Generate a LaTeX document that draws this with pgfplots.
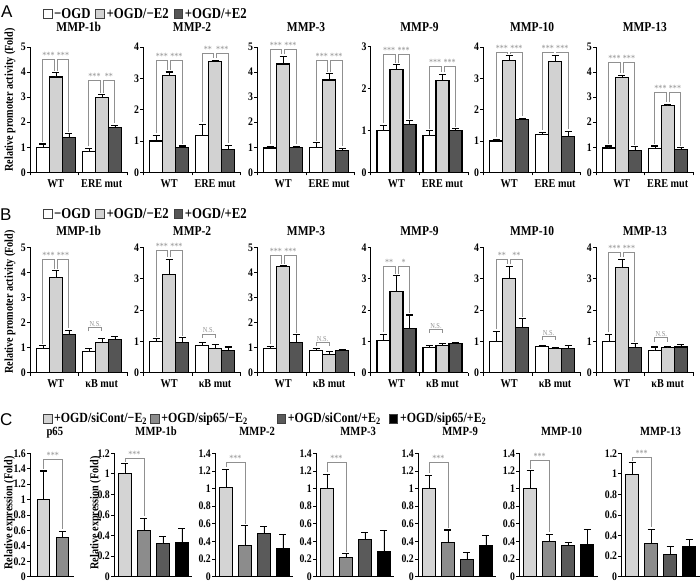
\documentclass[border=0pt]{standalone}
\usepackage{pgfplots}
\pgfplotsset{compat=1.18}
\usepackage{fontspec}
\setmainfont{Liberation Serif}[FakeStretch=0.85]
\newfontfamily\sansA{Liberation Sans}
\definecolor{lg}{HTML}{D2D2D2}
\definecolor{dg}{HTML}{555555}
\definecolor{cl}{HTML}{D4D4D4}
\definecolor{cm}{HTML}{8C8C8C}
\definecolor{cd}{HTML}{5A5A5A}
\definecolor{bkg}{HTML}{909090}
\newcommand\fTk{\bfseries\fontsize{11.5}{11.5}\selectfont}
\newcommand\fT{\bfseries\fontsize{13.5}{13.5}\selectfont}
\newcommand\fTc{\bfseries\fontsize{12.5}{12.5}\selectfont}
\newcommand\fG{\bfseries\fontsize{12}{12}\selectfont}
\newcommand\fL{\bfseries\fontsize{15}{15}\selectfont}
\newcommand\fLc{\bfseries\fontsize{14}{14}\selectfont}
\newcommand\fY{\bfseries\fontsize{12}{12}\selectfont}
\tikzset{brkline/.style={draw=bkg, line width=0.6pt},
  sig/.style={above, inner sep=0.5pt, text=bkg, font=\fontsize{9.5}{9.5}\selectfont}}
\newcommand\brk[7]{\draw[brkline] ([xshift=#2pt,yshift=2pt]axis cs:#1,#4) -- ([xshift=#2pt]axis cs:#1,#6) -- node[sig]{#7} ([xshift=#3pt]axis cs:#1,#6) -- ([xshift=#3pt,yshift=2pt]axis cs:#1,#5);}
\newcommand\ns[2]{\draw[brkline] ([xshift=-13pt,yshift=-4pt]axis cs:#1,#2) -- ([xshift=-13pt]axis cs:#1,#2) -- node[sig,font=\fontsize{7.5}{7.5}\selectfont]{N.S.} ([xshift=0pt]axis cs:#1,#2) -- ([yshift=-4pt]axis cs:#1,#2);}
\pgfplotsset{
  base/.style={scale only axis, anchor=south west, ymin=0,
    axis x line*=bottom, axis y line*=left,
    axis line style={line width=0.9pt},
    tick style={black, line width=0.8pt}, tick align=outside, major tick length=3pt,
    tick label style={font=\fTk}, /pgf/number format/assume math mode=true,
    yticklabel style={inner xsep=1pt}, clip=false,
    every axis plot/.append style={draw=black, line width=1.1pt},
    every axis plot post/.append style={legend image code/.code={\draw[####1, draw=black!75, line width=0.6pt] (0pt,-4.3pt) rectangle (8.6pt,4.3pt);}}},
  ab/.style={base, width=97.5pt, height=125.4pt, xmin=-0.56, xmax=1.56,
    xtick={-0.56,0.5,1.56}, xticklabels={,,},
    extra x ticks={0,1}, extra x tick labels={WT,#1},
    extra x tick style={major tick length=0pt, tick label style={font=\fG, anchor=base, yshift=-15pt}},
    ytick distance=1, ybar=0pt, bar width=13pt,
    title style={font=\fT, at={(0.5,1)}, anchor=base}},
  cc/.style={base, width=78.3pt, height=123.4pt, xmin=-0.57, xmax=3.55, xtick=\empty,
    ybar, bar width=12.5pt,
    title style={font=\fTc, at={(0.5,1)}, anchor=base, yshift=11.6pt, xshift=3pt}},
  eb/.style={error bars/.cd, y dir=plus, y explicit, error mark options={rotate=90, mark size=3.5pt, line width=1.1pt, black}},
  cb/.style={/pgf/bar shift=0pt, eb},
  legA/.style={legend style={anchor=west, draw=none, fill=none, font=\fL, inner sep=0pt, outer sep=0pt, nodes={inner xsep=2pt}, legend columns=3, /tikz/every even column/.append style={column sep=3pt}}}
}
\begin{document}
\begin{tikzpicture}
\path[use as bounding box] (0,0) rectangle (700pt,582pt);
% ================= Row A =================
\begin{axis}[ab={ERE mut}, at={(30pt,409.7pt)}, ymax=5, title={MMP-1b}, title style={yshift=9.5pt}, legA, legend style={at={(axis description cs:0.133,1.262)}}]
\addplot[fill=white, eb] coordinates {(0,1.0) +- (0,0.13) (1,0.82) +- (0,0.14)};
\addplot[fill=lg, eb] coordinates {(0,3.8) +- (0,0.17) (1,3.0) +- (0,0.1)};
\addplot[fill=dg, eb] coordinates {(0,1.4) +- (0,0.13) (1,1.8) +- (0,0.08)};
\legend{−OGD, +OGD/−E2, +OGD/+E2}
\brk{0}{-13}{-1.5}{1.13}{3.97}{4.5}{***}
\brk{0}{1.5}{13}{3.97}{1.53}{4.5}{***}
\brk{1}{-13}{-1.5}{0.96}{3.1}{3.67}{***}
\brk{1}{1.5}{13}{3.1}{1.88}{3.67}{**}
\end{axis}
\begin{axis}[ab={ERE mut}, at={(143.3pt,409.7pt)}, ymax=4, title={MMP-2}, title style={yshift=9.5pt}]
\addplot[fill=white, eb] coordinates {(0,1.0) +- (0,0.18) (1,1.17) +- (0,0.36)};
\addplot[fill=lg, eb] coordinates {(0,3.08) +- (0,0.12) (1,3.53) +- (0,0.05)};
\addplot[fill=dg, eb] coordinates {(0,0.8) +- (0,0.04) (1,0.74) +- (0,0.12)};
\brk{0}{-13}{-1.5}{1.18}{3.2}{3.58}{***}
\brk{0}{1.5}{13}{3.2}{0.84}{3.58}{***}
\brk{1}{-13}{-1.5}{1.53}{3.58}{3.81}{**}
\brk{1}{1.5}{13}{3.58}{0.86}{3.81}{***}
\end{axis}
\begin{axis}[ab={ERE mut}, at={(257.3pt,409.7pt)}, ymax=5, title={MMP-3}, title style={yshift=9.5pt}]
\addplot[fill=white, eb] coordinates {(0,0.97) +- (0,0.07) (1,1.0) +- (0,0.18)};
\addplot[fill=lg, eb] coordinates {(0,4.32) +- (0,0.3) (1,3.68) +- (0,0.25)};
\addplot[fill=dg, eb] coordinates {(0,1.0) +- (0,0.03) (1,0.88) +- (0,0.07)};
\brk{0}{-13}{-1.5}{1.04}{4.62}{4.9}{***}
\brk{0}{1.5}{13}{4.62}{1.03}{4.9}{***}
\brk{1}{-13}{-1.5}{1.18}{3.93}{4.47}{***}
\brk{1}{1.5}{13}{3.93}{0.95}{4.47}{***}
\end{axis}
\begin{axis}[ab={ERE mut}, at={(370.7pt,409.7pt)}, ymax=3, title={MMP-9}, title style={yshift=9.5pt}]
\addplot[fill=white, eb] coordinates {(0,1.0) +- (0,0.12) (1,0.89) +- (0,0.1)};
\addplot[fill=lg, eb] coordinates {(0,2.47) +- (0,0.1) (1,2.19) +- (0,0.15)};
\addplot[fill=dg, eb] coordinates {(0,1.15) +- (0,0.08) (1,1.0) +- (0,0.04)};
\brk{0}{-13}{-1.5}{1.12}{2.57}{2.82}{***}
\brk{0}{1.5}{13}{2.57}{1.23}{2.82}{***}
\brk{1}{-13}{-1.5}{0.99}{2.34}{2.54}{***}
\brk{1}{1.5}{13}{2.34}{1.04}{2.54}{***}
\end{axis}
\begin{axis}[ab={ERE mut}, at={(483.3pt,409.7pt)}, ymax=4, title={MMP-10}, title style={yshift=9.5pt}]
\addplot[fill=white, eb] coordinates {(0,1.0) +- (0,0.06) (1,1.2) +- (0,0.08)};
\addplot[fill=lg, eb] coordinates {(0,3.58) +- (0,0.14) (1,3.53) +- (0,0.2)};
\addplot[fill=dg, eb] coordinates {(0,1.68) +- (0,0.04) (1,1.15) +- (0,0.16)};
\brk{0}{-13}{-1.5}{1.06}{3.72}{3.84}{***}
\brk{0}{1.5}{13}{3.72}{1.72}{3.84}{***}
\brk{1}{-13}{-1.5}{1.28}{3.73}{3.84}{***}
\brk{1}{1.5}{13}{3.73}{1.31}{3.84}{***}
\end{axis}
\begin{axis}[ab={ERE mut}, at={(596pt,409.7pt)}, ymax=5, title={MMP-13}, title style={yshift=9.5pt}]
\addplot[fill=white, eb] coordinates {(0,0.97) +- (0,0.08) (1,0.95) +- (0,0.1)};
\addplot[fill=lg, eb] coordinates {(0,3.78) +- (0,0.08) (1,2.65) +- (0,0.06)};
\addplot[fill=dg, eb] coordinates {(0,0.87) +- (0,0.15) (1,0.9) +- (0,0.08)};
\brk{0}{-13}{-1.5}{1.05}{3.86}{4.4}{***}
\brk{0}{1.5}{13}{3.86}{1.02}{4.4}{***}
\brk{1}{-13}{-1.5}{1.05}{2.71}{3.17}{***}
\brk{1}{1.5}{13}{2.71}{0.98}{3.17}{***}
\end{axis}
% ================= Row B =================
\begin{axis}[ab={κB mut}, at={(30pt,209.3pt)}, ymax=5, title={MMP-1b}, title style={yshift=5.6pt}, legA, legend style={at={(axis description cs:0.133,1.2656)}}]
\addplot[fill=white, eb] coordinates {(0,0.97) +- (0,0.1) (1,0.84) +- (0,0.12)};
\addplot[fill=lg, eb] coordinates {(0,3.78) +- (0,0.28) (1,1.2) +- (0,0.17)};
\addplot[fill=dg, eb] coordinates {(0,1.53) +- (0,0.17) (1,1.31) +- (0,0.12)};
\legend{−OGD, +OGD/−E2, +OGD/+E2}
\brk{0}{-13}{-1.5}{1.07}{4.06}{4.52}{***}
\brk{0}{1.5}{13}{4.06}{1.7}{4.52}{***}
\ns{1}{1.81}
\end{axis}
\begin{axis}[ab={κB mut}, at={(143.3pt,209.3pt)}, ymax=4, title={MMP-2}, title style={yshift=5.6pt}]
\addplot[fill=white, eb] coordinates {(0,1.0) +- (0,0.09) (1,0.88) +- (0,0.09)};
\addplot[fill=lg, eb] coordinates {(0,3.12) +- (0,0.5) (1,0.77) +- (0,0.13)};
\addplot[fill=dg, eb] coordinates {(0,0.97) +- (0,0.14) (1,0.7) +- (0,0.12)};
\brk{0}{-13}{-1.5}{1.09}{3.62}{3.9}{***}
\brk{0}{1.5}{13}{3.62}{1.11}{3.9}{***}
\ns{1}{1.24}
\end{axis}
\begin{axis}[ab={κB mut}, at={(257.3pt,209.3pt)}, ymax=5, title={MMP-3}, title style={yshift=5.6pt}]
\addplot[fill=white, eb] coordinates {(0,0.97) +- (0,0.08) (1,0.9) +- (0,0.06)};
\addplot[fill=lg, eb] coordinates {(0,4.22) +- (0,0.05) (1,0.72) +- (0,0.14)};
\addplot[fill=dg, eb] coordinates {(0,1.2) +- (0,0.32) (1,0.87) +- (0,0.06)};
\brk{0}{-13}{-1.5}{1.05}{4.27}{4.69}{***}
\brk{0}{1.5}{13}{4.27}{1.52}{4.69}{***}
\ns{1}{1.21}
\end{axis}
\begin{axis}[ab={κB mut}, at={(370.7pt,209.3pt)}, ymax=4, title={MMP-9}, title style={yshift=5.6pt}]
\addplot[fill=white, eb] coordinates {(0,1.02) +- (0,0.2) (1,0.8) +- (0,0.07)};
\addplot[fill=lg, eb] coordinates {(0,2.6) +- (0,0.5) (1,0.87) +- (0,0.06)};
\addplot[fill=dg, eb] coordinates {(0,1.42) +- (0,0.42) (1,0.93) +- (0,0.04)};
\brk{0}{-13}{-1.5}{1.22}{3.1}{3.4}{**}
\brk{0}{1.5}{13}{3.1}{1.84}{3.4}{*}
\ns{1}{1.39}
\end{axis}
\begin{axis}[ab={κB mut}, at={(483.3pt,209.3pt)}, ymax=4, title={MMP-10}, title style={yshift=5.6pt}]
\addplot[fill=white, eb] coordinates {(0,1.0) +- (0,0.32) (1,0.83) +- (0,0.03)};
\addplot[fill=lg, eb] coordinates {(0,3.0) +- (0,0.4) (1,0.78) +- (0,0.03)};
\addplot[fill=dg, eb] coordinates {(0,1.45) +- (0,0.27) (1,0.77) +- (0,0.09)};
\brk{0}{-13}{-1.5}{1.32}{3.4}{3.61}{**}
\brk{0}{1.5}{13}{3.4}{1.72}{3.61}{**}
\ns{1}{1.16}
\end{axis}
\begin{axis}[ab={κB mut}, at={(596pt,209.3pt)}, ymax=4, title={MMP-13}, title style={yshift=5.6pt}]
\addplot[fill=white, eb] coordinates {(0,1.0) +- (0,0.22) (1,0.7) +- (0,0.12)};
\addplot[fill=lg, eb] coordinates {(0,3.35) +- (0,0.27) (1,0.8) +- (0,0.04)};
\addplot[fill=dg, eb] coordinates {(0,0.8) +- (0,0.12) (1,0.82) +- (0,0.07)};
\brk{0}{-13}{-1.5}{1.22}{3.62}{3.83}{***}
\brk{0}{1.5}{13}{3.62}{0.92}{3.83}{***}
\ns{1}{1.12}
\end{axis}
% ================= Row C =================
\begin{axis}[cc, at={(30pt,5.3pt)}, width=43.7pt, xmin=-0.7, xmax=1.6, ymax=1.6, ytick={0,0.2,0.4,0.6,0.8,1,1.2,1.4,1.6}, title={p65}]
\addplot[fill=cl, cb] coordinates {(0,1.0) +- (0,0.37)};
\addplot[fill=cm, cb] coordinates {(1,0.51) +- (0,0.08)};
\brk{0.5}{-9.5}{9.5}{1.37}{0.59}{1.52}{***}
\end{axis}
\begin{axis}[cc, at={(114pt,5.3pt)}, ymax=1.2, ytick={0,0.2,0.4,0.6,0.8,1,1.2}, title={MMP-1b},
  legend style={at={(axis description cs:-0.907,1.282)}, anchor=west, draw=none, fill=none, font=\fLc, inner sep=0pt, outer sep=0pt, nodes={inner xsep=2pt}, legend columns=4, /tikz/every even column/.append style={column sep=1pt}}]
\addplot[fill=cl, cb] coordinates {(0,1.0) +- (0,0.1)};
\addplot[fill=cm, cb] coordinates {(1,0.45) +- (0,0.12)};
\addplot[fill=cd, cb] coordinates {(2,0.32) +- (0,0.07)};
\addplot[fill=black, cb] coordinates {(3,0.33) +- (0,0.14)};
\legend{+OGD/siCont/−E\textsubscript{2}, +OGD/sip65/−E\textsubscript{2}\hspace*{26pt}, +OGD/siCont/+E\textsubscript{2}\hspace*{5pt}, +OGD/sip65/+E\textsubscript{2}}
\brk{0.5}{-9.5}{9.5}{1.1}{0.57}{1.15}{***}
\end{axis}
\begin{axis}[cc, at={(215pt,5.3pt)}, ymax=1.4, ytick={0,0.2,0.4,0.6,0.8,1,1.2,1.4}, title={MMP-2}]
\addplot[fill=cl, cb] coordinates {(0,1.01) +- (0,0.21)};
\addplot[fill=cm, cb] coordinates {(1,0.35) +- (0,0.23)};
\addplot[fill=cd, cb] coordinates {(2,0.49) +- (0,0.08)};
\addplot[fill=black, cb] coordinates {(3,0.32) +- (0,0.16)};
\brk{0.5}{-9.5}{9.5}{1.22}{0.58}{1.3}{***}
\end{axis}
\begin{axis}[cc, at={(316pt,5.3pt)}, ymax=1.4, ytick={0,0.2,0.4,0.6,0.8,1,1.2,1.4}, title={MMP-3}]
\addplot[fill=cl, cb] coordinates {(0,1.0) +- (0,0.16)};
\addplot[fill=cm, cb] coordinates {(1,0.22) +- (0,0.04)};
\addplot[fill=cd, cb] coordinates {(2,0.42) +- (0,0.08)};
\addplot[fill=black, cb] coordinates {(3,0.28) +- (0,0.24)};
\brk{0.5}{-9.5}{9.5}{1.16}{0.26}{1.3}{***}
\end{axis}
\begin{axis}[cc, at={(418pt,5.3pt)}, ymax=1.4, ytick={0,0.2,0.4,0.6,0.8,1,1.2,1.4}, title={MMP-9}]
\addplot[fill=cl, cb] coordinates {(0,1.0) +- (0,0.15)};
\addplot[fill=cm, cb] coordinates {(1,0.39) +- (0,0.14)};
\addplot[fill=cd, cb] coordinates {(2,0.2) +- (0,0.07)};
\addplot[fill=black, cb] coordinates {(3,0.35) +- (0,0.12)};
\brk{0.5}{-9.5}{9.5}{1.15}{0.53}{1.3}{***}
\end{axis}
\begin{axis}[cc, at={(519.3pt,5.3pt)}, ymax=1.4, ytick={0,0.2,0.4,0.6,0.8,1,1.2,1.4}, title={MMP-10}]
\addplot[fill=cl, cb] coordinates {(0,1.0) +- (0,0.2)};
\addplot[fill=cm, cb] coordinates {(1,0.4) +- (0,0.08)};
\addplot[fill=cd, cb] coordinates {(2,0.35) +- (0,0.04)};
\addplot[fill=black, cb] coordinates {(3,0.36) +- (0,0.18)};
\brk{0.5}{-9.5}{9.5}{1.2}{0.48}{1.32}{***}
\end{axis}
\begin{axis}[cc, at={(621.3pt,5.3pt)}, ymax=1.2, ytick={0,0.2,0.4,0.6,0.8,1,1.2}, title={MMP-13}, title style={xshift=-3pt}]
\addplot[fill=cl, cb] coordinates {(0,0.99) +- (0,0.12)};
\addplot[fill=cm, cb] coordinates {(1,0.32) +- (0,0.14)};
\addplot[fill=cd, cb] coordinates {(2,0.22) +- (0,0.07)};
\addplot[fill=black, cb] coordinates {(3,0.29) +- (0,0.07)};
\brk{0.5}{-9.5}{9.5}{1.11}{0.46}{1.16}{***}
\end{axis}
% ================= labels =================
\node[anchor=base west, font=\sansA\fontsize{17}{17}\selectfont, inner sep=0pt] at (1pt,564pt) {A};
\node[anchor=base west, font=\sansA\fontsize{17}{17}\selectfont, inner sep=0pt] at (0pt,362pt) {B};
\node[anchor=base west, font=\sansA\fontsize{17}{17}\selectfont, inner sep=0pt] at (0pt,157pt) {C};
\node[rotate=90, font=\fY, inner sep=0pt] at (10pt,482pt) {Relative promoter activity (Fold)};
\node[rotate=90, font=\fY, inner sep=0pt] at (10pt,280pt) {Relative promoter activity (Fold)};
\node[rotate=90, font=\fY, inner sep=0pt] at (9.5pt,69pt) {Relative expression (Fold)};
\node[rotate=90, font=\fY, inner sep=0pt] at (95.5pt,69pt) {Relative expression (Fold)};
\end{tikzpicture}
\end{document}
